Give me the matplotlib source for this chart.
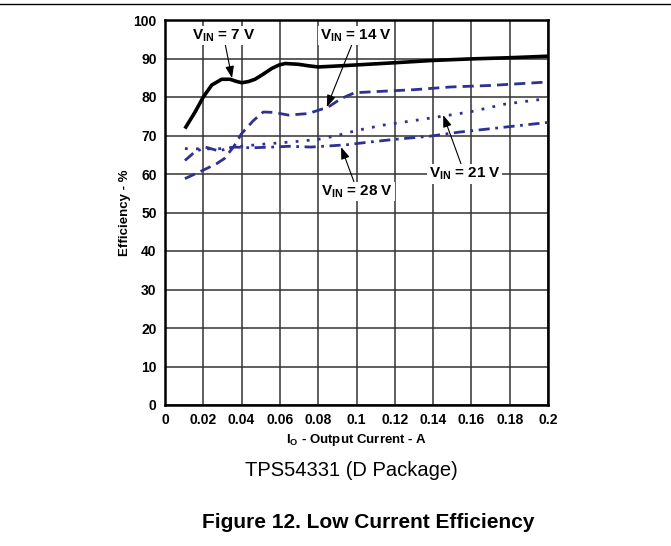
import matplotlib
matplotlib.use("Agg")
import matplotlib.pyplot as plt

plt.rcParams['font.family'] = ['Liberation Sans', 'DejaVu Sans']
plt.rcParams['mathtext.fontset'] = 'custom'
plt.rcParams['mathtext.rm'] = 'Liberation Sans'
plt.rcParams['mathtext.bf'] = 'Liberation Sans:bold'
plt.rcParams['mathtext.it'] = 'Liberation Sans:italic'

# ---- data ----
v7_x = [0.0104, 0.0157, 0.02, 0.0244, 0.0296, 0.034, 0.037, 0.040, 0.0435, 0.047, 0.0515, 0.0557, 0.0595, 0.0627, 0.0696, 0.075, 0.080, 0.088, 0.099, 0.12, 0.14, 0.16, 0.18, 0.2]
v7_y = [71.8, 76.1, 80.0, 83.1, 84.6, 84.6, 84.1, 83.7, 84.0, 84.6, 86.0, 87.4, 88.3, 88.7, 88.5, 88.1, 87.8, 88.0, 88.3, 88.9, 89.5, 89.9, 90.2, 90.6]

v14_x = [0.0104, 0.02, 0.027, 0.031, 0.036, 0.04, 0.046, 0.0513, 0.057, 0.0644, 0.0748, 0.0853, 0.092, 0.099, 0.11, 0.13, 0.149, 0.17, 0.2]
v14_y = [58.8, 61.0, 62.7, 64.0, 67.2, 70.5, 73.8, 76.1, 76.0, 75.3, 75.7, 77.4, 79.6, 81.1, 81.4, 81.9, 82.6, 83.0, 83.9]

v21_x = [0.0104, 0.02, 0.03, 0.04, 0.05, 0.06, 0.07, 0.08, 0.09, 0.1, 0.114, 0.133, 0.159, 0.178, 0.2]
v21_y = [66.6, 66.5, 66.6, 67.2, 67.7, 68.1, 68.5, 69.0, 70.0, 71.3, 72.7, 74.1, 76.1, 78.2, 79.6]

v28_x = [0.0104, 0.015, 0.021, 0.028, 0.036, 0.045, 0.056, 0.065, 0.076, 0.086, 0.095, 0.105, 0.12, 0.138, 0.154, 0.178, 0.2]
v28_y = [63.5, 65.5, 67.0, 66.0, 67.0, 66.8, 67.0, 67.2, 67.0, 67.3, 67.6, 68.2, 69.0, 69.8, 70.9, 72.2, 73.4]

x_ticks = [0, 0.02, 0.04, 0.06, 0.08, 0.1, 0.12, 0.14, 0.16, 0.18, 0.2]
x_tick_labels = ['0', '0.02', '0.04', '0.06', '0.08', '0.1', '0.12', '0.14', '0.16', '0.18', '0.2']
y_ticks = [0, 10, 20, 30, 40, 50, 60, 70, 80, 90, 100]

blue = '#2e3192'

fig = plt.figure(figsize=(6.71, 5.46), dpi=100)
ax = fig.add_axes([165/671, 1-405/546, (548-165)/671, (405-20)/546])

ax.plot(v7_x, v7_y, color='black', lw=2.6, solid_capstyle='butt', solid_joinstyle='round', zorder=5)
ax.plot(v14_x, v14_y, color=blue, lw=2.0, linestyle=(0, (4, 2.2)), zorder=4)
ax.plot(v21_x, v21_y, color=blue, lw=2.0, linestyle=(0, (1, 3.0)), zorder=4)
ax.plot(v28_x, v28_y, color=blue, lw=2.0, linestyle=(0, (4, 2, 1, 2)), zorder=4)

ax.set_xlim(0, 0.2)
ax.set_ylim(0, 100)
ax.set_xticks(x_ticks)
ax.set_xticklabels(x_tick_labels)
ax.set_yticks(y_ticks)
ax.grid(True, color='#333333', lw=1.1)
ax.set_axisbelow(True)
ax.tick_params(length=0, pad=6, labelsize=10)
for lab in ax.get_xticklabels() + ax.get_yticklabels():
    lab.set_fontweight('bold')
for sp in ax.spines.values():
    sp.set_linewidth(1.8)

ax.set_xlabel(r'$\mathbf{I_O}$ - Output Current - A', fontsize=9.5, fontweight='bold', labelpad=3)
ax.set_ylabel('Efficiency - %', fontsize=9.5, fontweight='bold', labelpad=2)

bbox = dict(boxstyle='square,pad=0.1', fc='white', ec='none')
arrow = dict(arrowstyle='-|>,head_length=0.55,head_width=0.2', color='black', lw=0.8,
             mutation_scale=13, shrinkA=0, shrinkB=0)
ann_fs = 11
ax.annotate(r'$\mathbf{V_{IN}}$ = 7 V', xy=(0.035, 84.9), xytext=(0.0305, 96),
            ha='center', va='center', fontsize=ann_fs, fontweight='bold', bbox=bbox,
            arrowprops=arrow, zorder=6)
ax.annotate(r'$\mathbf{V_{IN}}$ = 14 V', xy=(0.0845, 77.4), xytext=(0.0995, 96),
            ha='center', va='center', fontsize=ann_fs, fontweight='bold', bbox=bbox,
            arrowprops=arrow, zorder=6)
ax.annotate(r'$\mathbf{V_{IN}}$ = 28 V', xy=(0.092, 67.0), xytext=(0.1005, 55.5),
            ha='center', va='center', fontsize=ann_fs, fontweight='bold', bbox=bbox,
            arrowprops=arrow, zorder=6)
ax.annotate(r'$\mathbf{V_{IN}}$ = 21 V', xy=(0.1453, 75.3), xytext=(0.1565, 60.0),
            ha='center', va='center', fontsize=ann_fs, fontweight='bold', bbox=bbox,
            arrowprops=arrow, zorder=6)

fig.text(351/671, 1-470/546, 'TPS54331 (D Package)', ha='center', va='center', fontsize=14.5)
fig.text(368/671, 1-522/546, 'Figure 12. Low Current Efficiency', ha='center', va='center',
         fontsize=15, fontweight='bold')
fig.add_artist(plt.Line2D([0, 1], [1-4/546, 1-4/546], color='black', lw=1.0, transform=fig.transFigure))

fig.savefig('out.png', dpi=100)
